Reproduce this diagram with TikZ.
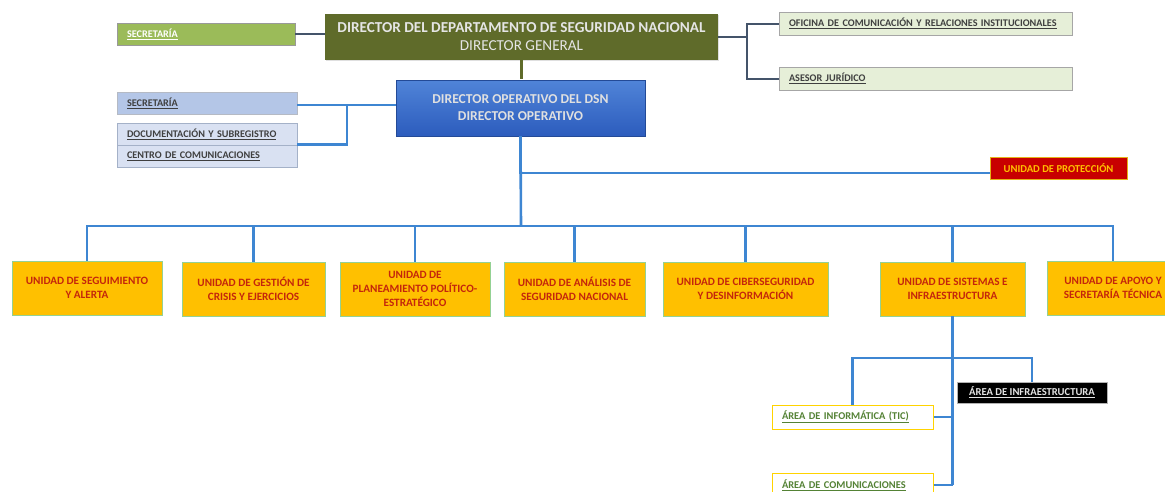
\documentclass[tikz,border=0pt]{standalone}
\usepackage{fontspec}
\setmainfont{Carlito}
\usetikzlibrary{calc,shadows}

\definecolor{olivedir}{HTML}{5F6B2A}
\definecolor{secgreen}{HTML}{9BBB59}
\definecolor{palegreen}{HTML}{E6EFD8}
\definecolor{paleblue}{HTML}{B4C6E7}
\definecolor{lightblue}{HTML}{D9E1F2}
\definecolor{dopTop}{HTML}{5084D8}
\definecolor{dopBottom}{HTML}{2C5CBD}
\definecolor{slateline}{HTML}{44546A}
\definecolor{bluelink}{HTML}{3E86D2}
\definecolor{unitfill}{HTML}{FFC000}
\definecolor{unittext}{HTML}{C4260C}
\definecolor{protfill}{HTML}{C80000}
\definecolor{ticgreen}{HTML}{548235}
\definecolor{labelgray}{HTML}{3F3F3F}

\tikzset{
  shadowed/.style={drop shadow={opacity=0.25,shadow xshift=1.2pt,shadow yshift=-1.2pt}},
  sizebox/.style 2 args={minimum width=#1,minimum height=#2,inner sep=0pt},
  textbox/.style 2 args={text width=#1-20pt,minimum height=#2,inner xsep=10pt,inner ysep=0pt,align=left},
  label box/.style={draw=gray!70,line width=0.8pt,shadowed,font=\fontsize{10.2}{12}\bfseries,text=labelgray},
  unit box/.style={draw=green!40!gray!60,line width=0.5pt,fill=unitfill,shadowed,align=center,
    text=unittext,font=\fontsize{11.2}{14}\bfseries},
  top link/.style={draw=slateline,line width=2pt},
  blue link/.style={draw=bluelink,line width=2.6pt}
}

\begin{document}
\begin{tikzpicture}[x=1pt,y=-1pt]
  %%%%% START %%%%%
  \clip (0,0) rectangle (1165,491);

  % direccion
  \node[sizebox={393}{46},fill=olivedir,shadowed,text=white!90!black,align=center,
        font=\fontsize{15.2}{18}\selectfont] (dg) at (521.5,37)
        {\textbf{DIRECTOR DEL DEPARTAMENTO DE SEGURIDAD NACIONAL}\\DIRECTOR GENERAL};
  \node[textbox={178pt}{22},fill=secgreen,draw=gray!80,line width=0.8pt,shadowed,
        text=white,font=\fontsize{10.2}{12}\bfseries] (secdg) at (206,34) {\underline{SECRETARÍA}};
  \node[textbox={293pt}{23},label box,fill=palegreen] (ofi) at (925.5,23.5)
        {\underline{OFICINA DE COMUNICACIÓN Y RELACIONES INSTITUCIONALES}};
  \node[textbox={293pt}{23},label box,fill=palegreen] (ase) at (925.5,78.5)
        {\underline{ASESOR JURÍDICO}};

  \coordinate (jr) at (747,37);
  \draw[top link] (secdg.east) -- (secdg.east -| dg.west);
  \draw[top link] (dg.east) -- (jr);
  \draw[top link] (ofi.west) -| (jr) |- (ase.west);
  \draw[draw=olivedir,line width=2.6pt] (dg.south) -- (521.5,79);

  % director operativo
  \node[sizebox={249}{56},top color=dopTop,bottom color=dopBottom,
        draw=dopBottom!80!black,line width=0.4pt,shadowed,text=white!88!black,align=center,
        font=\fontsize{13.6}{17}\bfseries] (dop) at (520.5,108)
        {DIRECTOR OPERATIVO DEL DSN\\DIRECTOR OPERATIVO};
  \node[textbox={180pt}{22},label box,fill=paleblue,draw=lightblue!60!gray] (secop) at (207,103)
        {\underline{SECRETARÍA}};
  \node[textbox={180pt}{22},label box,fill=lightblue,draw=paleblue!70!gray] (doc) at (207,134)
        {\underline{DOCUMENTACIÓN Y SUBREGISTRO}};
  \node[textbox={180pt}{22},label box,fill=lightblue,draw=paleblue!70!gray] (cen) at (207,156)
        {\underline{CENTRO DE COMUNICACIONES}};

  \coordinate (jl) at (347,105);
  \draw[blue link] (dop.west |- jl) -- (secop.east |- jl);
  \draw[blue link] (jl) |- (cen.north east);

  % unidades
  \node[sizebox={137}{22},fill=protfill,draw=unitfill!80!gray,line width=0.6pt,shadowed,
        text=unitfill,font=\fontsize{10.6}{12}\bfseries] (pro) at (1058.5,168) {UNIDAD DE PROTECCIÓN};
  \node[sizebox={150}{54},unit box] (u1) at (87,288) {UNIDAD DE SEGUIMIENTO\\Y ALERTA};
  \node[sizebox={143}{54},unit box] (u2) at (253.5,289) {UNIDAD DE GESTIÓN DE\\CRISIS Y EJERCICIOS};
  \node[sizebox={150}{54},unit box] (u3) at (415,289) {UNIDAD DE\\PLANEAMIENTO POLÍTICO-\\ESTRATÉGICO};
  \node[sizebox={141}{54},unit box] (u4) at (574.5,289) {UNIDAD DE ANÁLISIS DE\\SEGURIDAD NACIONAL};
  \node[sizebox={165}{54},unit box] (u5) at (745.5,289) {UNIDAD DE CIBERSEGURIDAD\\Y DESINFORMACIÓN};
  \node[sizebox={145}{54},unit box] (u6) at (952.5,289) {UNIDAD DE SISTEMAS E\\INFRAESTRUCTURA};
  \node[sizebox={132}{54},unit box] (u7) at (1113,288) {UNIDAD DE APOYO Y\\SECRETARÍA TÉCNICA};

  \coordinate (bus) at (521,226);
  \draw[blue link] (dop.south) -- (bus);
  \draw[blue link] (dop.south) |- ($(pro.west)+(0,5)$);
  \draw[blue link] (u1.north) |- (bus) -| (u7.north);
  \foreach \u in {u2,u3,u4,u5,u6}
    \draw[blue link] (\u.north) -- (\u.north |- bus);

  % areas
  \node[sizebox={150}{21},fill=black,draw=gray!60,line width=0.5pt,shadowed,text=white!90!black,
        font=\fontsize{10.6}{12}\bfseries] (inf) at (1032,392.5) {\underline{ÁREA DE INFRAESTRUCTURA}};
  \node[textbox={161pt}{24},fill=white,draw=unitfill!70!yellow,line width=1pt,
        text=ticgreen,font=\fontsize{10.4}{12}\bfseries] (tic) at (852.5,417) {\underline{ÁREA DE INFORMÁTICA (TIC)}};
  \node[textbox={161pt}{24},fill=white,draw=unitfill!70!yellow,line width=1pt,
        text=ticgreen,font=\fontsize{10.4}{12}\bfseries] (com) at (852.5,485) {\underline{ÁREA DE COMUNICACIONES}};

  \coordinate (bj) at (952.5,358);
  \draw[blue link] (u6.south) -- (u6.south |- com.east);
  \draw[blue link] (tic.north) |- (bj) -| (inf.north);
  \draw[blue link] (tic.east) -- (tic.east -| u6.south);
  \draw[blue link] (com.east) -- (com.east -| u6.south);
  %%%%% END %%%%%
\end{tikzpicture}
\end{document}
